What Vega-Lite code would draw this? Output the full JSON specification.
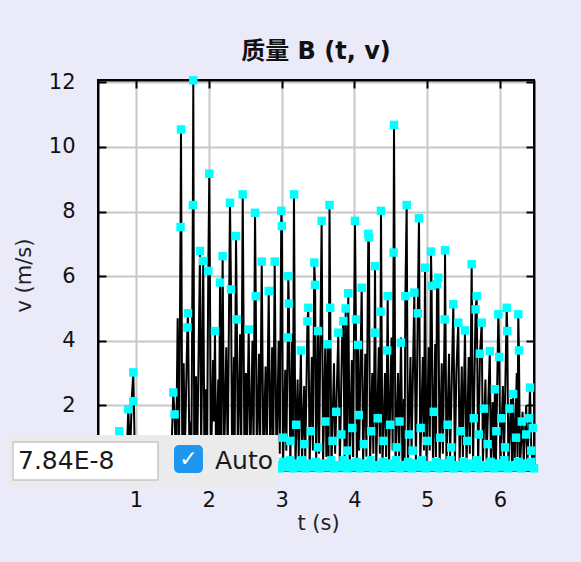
{
"$schema":"https://vega.github.io/schema/vega-lite/v6.json",
"width":436,"height":390,
"autosize":{"type":"none"},
"padding":{"left":98,"top":80,"right":47,"bottom":92},
"background":"#eaeaf9",
"title":{"text":"质量 B (t, v)","font":"DejaVu Sans, Noto Sans CJK SC","fontSize":24,"fontWeight":"bold","color":"#111111","anchor":"middle","baseline":"alphabetic","offset":-12},
"config":{
 "view":{"stroke":"black","strokeWidth":2,"fill":"white"},
 "axis":{"domainColor":"black","domainWidth":2,"tickColor":"black","tickWidth":2,"tickSize":-8,"gridColor":"#c8c8c8","gridWidth":2,"labelFont":"DejaVu Sans","labelFontSize":21,"labelColor":"#111111","titleFont":"DejaVu Sans","titleFontSize":21,"titleColor":"#222222","titleFontWeight":"normal"}
},
"datasets":{
"series":[
{"t":0.478,"v":0.05},{"t":0.55,"v":0.1},{"t":0.62,"v":0.3},{"t":0.66,"v":0.05},{"t":0.72,"v":0.6},{"t":0.75,"v":0.1},{"t":0.77,"v":1.2},{"t":0.8,"v":0.2},{"t":0.85,"v":0.8},{"t":0.87,"v":0.3},{"t":0.894,"v":1.88},{"t":0.92,"v":0.4},{"t":0.94,"v":2.13},{"t":0.963,"v":3.02},{"t":0.985,"v":0.3},{"t":1.0,"v":0.05},{"t":1.05,"v":0.4},{"t":1.1,"v":0.05},{"t":1.2,"v":0.3},{"t":1.3,"v":0.05},{"t":1.4,"v":0.2},{"t":1.48,"v":0.05},
{"t":1.512,"v":2.4},{"t":1.53,"v":1.72},{"t":1.55,"v":0.1},{"t":1.572,"v":4.7},{"t":1.59,"v":0.2},{"t":1.612,"v":7.52},{"t":1.618,"v":10.54},{"t":1.636,"v":0.2},{"t":1.655,"v":3.3},{"t":1.67,"v":0.4},{"t":1.706,"v":4.41},{"t":1.714,"v":4.85},{"t":1.735,"v":0.2},{"t":1.75,"v":1.5},{"t":1.76,"v":0.1},{"t":1.781,"v":8.2},{"t":1.787,"v":12.06},{"t":1.8,"v":0.2},{"t":1.824,"v":2.9},{"t":1.84,"v":0.3},{"t":1.879,"v":6.78},{"t":1.895,"v":0.6},{"t":1.924,"v":6.47},{"t":1.94,"v":0.1},{"t":1.96,"v":2.5},{"t":1.975,"v":0.4},{"t":1.993,"v":6.16},{"t":2.007,"v":9.17},{"t":2.03,"v":0.1},{"t":2.058,"v":3.4},{"t":2.07,"v":1.5},{"t":2.085,"v":4.3},{"t":2.1,"v":0.2},{"t":2.13,"v":2.8},{"t":2.14,"v":0.6},{"t":2.154,"v":5.8},{"t":2.17,"v":0.3},{"t":2.19,"v":6.62},{"t":2.21,"v":0.2},{"t":2.24,"v":3.8},{"t":2.26,"v":0.4},{"t":2.291,"v":8.27},{"t":2.305,"v":5.59},{"t":2.32,"v":0.1},{"t":2.345,"v":3.5},{"t":2.355,"v":0.6},{"t":2.374,"v":7.24},{"t":2.385,"v":4.66},{"t":2.4,"v":0.2},{"t":2.43,"v":4.2},{"t":2.445,"v":0.5},{"t":2.466,"v":8.53},{"t":2.49,"v":0.1},{"t":2.51,"v":3.0},{"t":2.525,"v":0.8},{"t":2.548,"v":4.35},{"t":2.57,"v":0.2},{"t":2.6,"v":4.0},{"t":2.615,"v":0.5},{"t":2.635,"v":7.96},{"t":2.645,"v":5.38},{"t":2.66,"v":0.1},{"t":2.69,"v":3.6},{"t":2.705,"v":0.7},{"t":2.727,"v":6.45},{"t":2.75,"v":0.2},{"t":2.78,"v":3.2},{"t":2.795,"v":0.4},{"t":2.823,"v":5.54},{"t":2.845,"v":0.1},{"t":2.87,"v":3.8},{"t":2.885,"v":0.5},{"t":2.905,"v":6.45},{"t":2.93,"v":0.1},{"t":2.96,"v":4.0},{"t":2.975,"v":0.5},{"t":2.996,"v":8.02},{"t":3.004,"v":7.55},{"t":3.02,"v":0.1},{"t":3.05,"v":3.1},{"t":3.065,"v":0.6},{"t":3.085,"v":4.1},{"t":3.092,"v":6.0},{"t":3.1,"v":5.15},{"t":3.12,"v":0.1},{"t":3.145,"v":4.2},{"t":3.155,"v":0.8},{"t":3.17,"v":8.53},{"t":3.19,"v":0.1},{"t":3.22,"v":2.8},{"t":3.235,"v":0.4},{"t":3.265,"v":3.7},{"t":3.28,"v":0.2},{"t":3.31,"v":2.6},{"t":3.325,"v":0.3},{"t":3.355,"v":4.6},{"t":3.367,"v":5.02},{"t":3.385,"v":0.1},{"t":3.415,"v":3.5},{"t":3.43,"v":0.6},{"t":3.449,"v":6.42},{"t":3.46,"v":5.73},{"t":3.475,"v":0.2},{"t":3.5,"v":4.3},{"t":3.515,"v":0.5},{"t":3.55,"v":7.71},{"t":3.57,"v":0.2},{"t":3.6,"v":3.9},{"t":3.615,"v":0.4},{"t":3.635,"v":3.89},{"t":3.645,"v":0.3},{"t":3.658,"v":8.2},{"t":3.668,"v":5.02},{"t":3.685,"v":0.1},{"t":3.72,"v":3.3},{"t":3.735,"v":0.5},{"t":3.779,"v":4.25},{"t":3.8,"v":0.1},{"t":3.83,"v":4.0},{"t":3.848,"v":4.61},{"t":3.865,"v":0.3},{"t":3.88,"v":5.0},{"t":3.895,"v":0.7},{"t":3.916,"v":5.47},{"t":3.935,"v":0.1},{"t":3.965,"v":3.4},{"t":3.98,"v":0.4},{"t":4.008,"v":7.71},{"t":4.02,"v":4.66},{"t":4.035,"v":0.2},{"t":4.05,"v":3.87},{"t":4.065,"v":0.6},{"t":4.1,"v":5.64},{"t":4.12,"v":0.1},{"t":4.15,"v":3.6},{"t":4.165,"v":0.4},{"t":4.191,"v":7.31},{"t":4.2,"v":7.2},{"t":4.215,"v":0.2},{"t":4.245,"v":3.0},{"t":4.26,"v":0.5},{"t":4.278,"v":4.25},{"t":4.283,"v":6.31},{"t":4.3,"v":0.1},{"t":4.335,"v":3.8},{"t":4.35,"v":0.5},{"t":4.36,"v":4.9},{"t":4.365,"v":8.02},{"t":4.385,"v":0.1},{"t":4.42,"v":3.0},{"t":4.435,"v":0.4},{"t":4.45,"v":3.7},{"t":4.457,"v":5.38},{"t":4.475,"v":0.1},{"t":4.51,"v":4.1},{"t":4.525,"v":0.6},{"t":4.538,"v":6.73},{"t":4.544,"v":10.68},{"t":4.565,"v":0.1},{"t":4.6,"v":3.0},{"t":4.615,"v":0.3},{"t":4.64,"v":4.1},{"t":4.66,"v":0.1},{"t":4.68,"v":2.2},{"t":4.69,"v":0.3},{"t":4.7,"v":5.38},{"t":4.718,"v":8.2},{"t":4.735,"v":0.1},{"t":4.77,"v":3.5},{"t":4.785,"v":0.5},{"t":4.823,"v":5.49},{"t":4.845,"v":0.1},{"t":4.87,"v":4.85},{"t":4.887,"v":7.79},{"t":4.905,"v":0.2},{"t":4.94,"v":3.5},{"t":4.955,"v":0.6},{"t":4.97,"v":6.26},{"t":4.99,"v":0.1},{"t":5.02,"v":3.8},{"t":5.035,"v":0.6},{"t":5.052,"v":6.76},{"t":5.06,"v":5.7},{"t":5.08,"v":0.1},{"t":5.11,"v":3.9},{"t":5.12,"v":0.4},{"t":5.135,"v":5.75},{"t":5.152,"v":5.95},{"t":5.17,"v":0.1},{"t":5.2,"v":3.3},{"t":5.215,"v":0.5},{"t":5.24,"v":4.66},{"t":5.245,"v":6.8},{"t":5.265,"v":0.1},{"t":5.3,"v":3.6},{"t":5.315,"v":0.4},{"t":5.359,"v":5.13},{"t":5.38,"v":0.1},{"t":5.4,"v":3.0},{"t":5.427,"v":4.56},{"t":5.445,"v":0.2},{"t":5.475,"v":3.2},{"t":5.49,"v":0.4},{"t":5.519,"v":4.32},{"t":5.54,"v":0.1},{"t":5.57,"v":3.5},{"t":5.585,"v":0.5},{"t":5.611,"v":6.37},{"t":5.63,"v":0.2},{"t":5.665,"v":4.97},{"t":5.68,"v":5.38},{"t":5.7,"v":0.1},{"t":5.725,"v":3.6},{"t":5.749,"v":4.56},{"t":5.765,"v":0.2},{"t":5.8,"v":2.8},{"t":5.815,"v":0.3},{"t":5.86,"v":3.68},{"t":5.875,"v":0.2},{"t":5.9,"v":2.1},{"t":5.915,"v":0.2},{"t":5.93,"v":2.5},{"t":5.945,"v":0.3},{"t":5.977,"v":4.82},{"t":5.99,"v":3.5},{"t":6.005,"v":0.1},{"t":6.04,"v":2.6},{"t":6.055,"v":0.3},{"t":6.092,"v":5.02},{"t":6.1,"v":4.3},{"t":6.115,"v":0.1},{"t":6.15,"v":2.2},{"t":6.165,"v":0.2},{"t":6.18,"v":2.35},{"t":6.2,"v":0.1},{"t":6.23,"v":3.0},{"t":6.24,"v":0.4},{"t":6.251,"v":4.82},{"t":6.26,"v":3.7},{"t":6.275,"v":0.1},{"t":6.31,"v":1.8},{"t":6.325,"v":0.2},{"t":6.36,"v":2.0},{"t":6.375,"v":0.1},{"t":6.4,"v":1.6},{"t":6.412,"v":2.55},{"t":6.43,"v":0.6},{"t":6.45,"v":0.2},{"t":6.467,"v":0.1}
],
"samples":[
{"t":0.77,"v":1.2},{"t":0.894,"v":1.88},{"t":0.963,"v":2.13},{"t":0.963,"v":3.02},
{"t":1.512,"v":2.4},{"t":1.53,"v":1.72},{"t":1.612,"v":7.52},{"t":1.618,"v":10.54},{"t":1.706,"v":4.41},{"t":1.714,"v":4.85},{"t":1.781,"v":8.2},{"t":1.787,"v":12.06},{"t":1.879,"v":6.78},{"t":1.924,"v":6.47},{"t":1.993,"v":6.16},{"t":2.007,"v":9.17},{"t":2.085,"v":4.3},{"t":2.154,"v":5.8},{"t":2.19,"v":6.62},{"t":2.291,"v":8.27},{"t":2.305,"v":5.59},{"t":2.374,"v":7.24},{"t":2.385,"v":4.66},{"t":2.466,"v":8.53},{"t":2.548,"v":4.35},{"t":2.635,"v":7.96},{"t":2.645,"v":5.38},{"t":2.727,"v":6.45},{"t":2.823,"v":5.54},{"t":2.905,"v":6.45},{"t":2.996,"v":8.02},{"t":3.004,"v":7.55},{"t":3.085,"v":4.1},{"t":3.092,"v":6.0},{"t":3.1,"v":5.15},{"t":3.17,"v":8.53},{"t":3.265,"v":3.7},{"t":3.355,"v":4.6},{"t":3.367,"v":5.02},{"t":3.449,"v":6.42},{"t":3.46,"v":5.73},{"t":3.5,"v":4.3},{"t":3.55,"v":7.71},{"t":3.635,"v":3.89},{"t":3.658,"v":8.2},{"t":3.668,"v":5.02},{"t":3.779,"v":4.25},{"t":3.848,"v":4.61},{"t":3.88,"v":5.0},{"t":3.916,"v":5.47},{"t":4.008,"v":7.71},{"t":4.02,"v":4.66},{"t":4.05,"v":3.87},{"t":4.1,"v":5.64},{"t":4.191,"v":7.31},{"t":4.2,"v":7.2},{"t":4.278,"v":4.25},{"t":4.283,"v":6.31},{"t":4.36,"v":4.9},{"t":4.365,"v":8.02},{"t":4.45,"v":3.7},{"t":4.457,"v":5.38},{"t":4.538,"v":6.73},{"t":4.544,"v":10.68},{"t":4.64,"v":3.94},{"t":4.7,"v":5.38},{"t":4.718,"v":8.2},{"t":4.823,"v":5.49},{"t":4.87,"v":4.85},{"t":4.887,"v":7.79},{"t":4.97,"v":6.26},{"t":5.052,"v":6.76},{"t":5.06,"v":5.7},{"t":5.135,"v":5.75},{"t":5.152,"v":5.95},{"t":5.24,"v":4.66},{"t":5.245,"v":6.8},{"t":5.359,"v":5.13},{"t":5.427,"v":4.56},{"t":5.519,"v":4.32},{"t":5.611,"v":6.37},{"t":5.665,"v":4.97},{"t":5.68,"v":5.38},{"t":5.725,"v":3.6},{"t":5.749,"v":4.56},{"t":5.86,"v":3.68},{"t":5.93,"v":2.5},{"t":5.977,"v":4.82},{"t":5.99,"v":3.5},{"t":6.092,"v":5.02},{"t":6.1,"v":4.3},{"t":6.18,"v":2.35},{"t":6.251,"v":4.82},{"t":6.26,"v":3.7},{"t":6.4,"v":1.6},{"t":6.412,"v":2.55},{"t":6.43,"v":0.6},
{"t":3.02,"v":1.0},{"t":3.12,"v":0.9},{"t":3.2,"v":1.4},{"t":3.31,"v":0.8},{"t":3.4,"v":1.2},{"t":3.5,"v":0.7},{"t":3.6,"v":1.5},{"t":3.7,"v":0.9},{"t":3.75,"v":1.8},{"t":3.82,"v":1.1},{"t":3.9,"v":0.6},{"t":3.97,"v":1.3},{"t":4.06,"v":1.7},{"t":4.13,"v":0.8},{"t":4.23,"v":1.2},{"t":4.32,"v":1.6},{"t":4.4,"v":0.9},{"t":4.49,"v":1.4},{"t":4.58,"v":0.7},{"t":4.62,"v":1.5},{"t":4.75,"v":1.1},{"t":4.8,"v":0.6},{"t":4.91,"v":1.3},{"t":5.0,"v":0.9},{"t":5.09,"v":1.8},{"t":5.18,"v":1.0},{"t":5.28,"v":1.4},{"t":5.33,"v":0.7},{"t":5.46,"v":1.2},{"t":5.55,"v":0.9},{"t":5.64,"v":1.6},{"t":5.71,"v":1.1},{"t":5.78,"v":1.9},{"t":5.83,"v":0.8},{"t":5.95,"v":1.2},{"t":6.02,"v":1.6},{"t":6.07,"v":0.7},{"t":6.13,"v":1.9},{"t":6.22,"v":1.0},{"t":6.3,"v":1.5},{"t":6.36,"v":1.1},{"t":6.45,"v":1.3},
{"t":2.92,"v":0.15},{"t":2.97,"v":0.05},{"t":3.02,"v":0.25},{"t":3.06,"v":0.1},{"t":3.12,"v":0.3},{"t":3.16,"v":0.05},{"t":3.19,"v":0.2},{"t":3.24,"v":0.1},{"t":3.28,"v":0.3},{"t":3.33,"v":0.05},{"t":3.38,"v":0.2},{"t":3.43,"v":0.1},{"t":3.47,"v":0.25},{"t":3.52,"v":0.05},{"t":3.57,"v":0.2},{"t":3.62,"v":0.1},{"t":3.68,"v":0.3},{"t":3.72,"v":0.05},{"t":3.76,"v":0.15},{"t":3.8,"v":0.1},{"t":3.85,"v":0.3},{"t":3.9,"v":0.05},{"t":3.94,"v":0.2},{"t":3.98,"v":0.1},{"t":4.03,"v":0.25},{"t":4.08,"v":0.05},{"t":4.12,"v":0.2},{"t":4.17,"v":0.1},{"t":4.22,"v":0.3},{"t":4.26,"v":0.05},{"t":4.3,"v":0.15},{"t":4.35,"v":0.1},{"t":4.39,"v":0.25},{"t":4.43,"v":0.05},{"t":4.48,"v":0.2},{"t":4.52,"v":0.1},{"t":4.57,"v":0.3},{"t":4.62,"v":0.05},{"t":4.66,"v":0.15},{"t":4.7,"v":0.1},{"t":4.74,"v":0.25},{"t":4.79,"v":0.05},{"t":4.84,"v":0.2},{"t":4.89,"v":0.1},{"t":4.93,"v":0.3},{"t":4.98,"v":0.05},{"t":5.02,"v":0.15},{"t":5.07,"v":0.1},{"t":5.12,"v":0.25},{"t":5.17,"v":0.05},{"t":5.22,"v":0.2},{"t":5.27,"v":0.1},{"t":5.32,"v":0.3},{"t":5.36,"v":0.05},{"t":5.41,"v":0.15},{"t":5.45,"v":0.1},{"t":5.5,"v":0.25},{"t":5.54,"v":0.05},{"t":5.59,"v":0.2},{"t":5.63,"v":0.1},{"t":5.68,"v":0.3},{"t":5.72,"v":0.05},{"t":5.77,"v":0.15},{"t":5.82,"v":0.1},{"t":5.87,"v":0.25},{"t":5.92,"v":0.05},{"t":5.96,"v":0.2},{"t":6.01,"v":0.1},{"t":6.06,"v":0.3},{"t":6.11,"v":0.05},{"t":6.16,"v":0.15},{"t":6.2,"v":0.1},{"t":6.25,"v":0.25},{"t":6.29,"v":0.05},{"t":6.34,"v":0.2},{"t":6.38,"v":0.1},{"t":6.43,"v":0.25},{"t":6.467,"v":0.05}
],
"field":[{"label":"7.84E-8"}],
"check":[{"label":"✓"}],
"auto":[{"label":"Auto"}]
},
"layer":[
{"data":{"name":"series"},
 "mark":{"type":"line","color":"black","strokeWidth":2},
 "encoding":{
  "x":{"field":"t","type":"quantitative","scale":{"domain":[0.478,6.467],"nice":false,"zero":false},
   "axis":{"orient":"bottom","title":"t (s)","values":[1,2,3,4,5,6],"grid":true,"labelPadding":38,"labelBaseline":"middle","titleX":220,"titleY":53,"titleBaseline":"middle"}},
  "y":{"field":"v","type":"quantitative","scale":{"domain":[0,12.07],"nice":false,"zero":false},
   "axis":{"orient":"left","title":"v (m/s)","values":[2,4,6,8,10,12],"grid":true,"labelPadding":31,"labelBaseline":"middle","titleX":-74,"titleY":195,"titleAngle":-90,"titleAlign":"center","titleBaseline":"middle"}}
 }},
{"data":{"name":"samples"},
 "mark":{"type":"square","size":72,"color":"#00ffff","opacity":1,"filled":true},
 "encoding":{"x":{"field":"t","type":"quantitative","axis":null},"y":{"field":"v","type":"quantitative","axis":null}}},
{"data":{"name":"samples"},
 "mark":{"type":"point","opacity":0},
 "encoding":{
  "x":{"field":"t","type":"quantitative","axis":{"orient":"top","title":null,"labels":false,"grid":false,"values":[1,2,3,4,5,6]}},
  "y":{"field":"v","type":"quantitative","axis":{"orient":"right","title":null,"labels":false,"grid":false,"values":[0,2,4,6,8,10,12]}}}},
{"data":{"name":"field"},
 "mark":{"type":"rect","color":"#ebebeb"},
 "encoding":{"x":{"datum":-0.758,"type":"quantitative","axis":null},"x2":{"datum":2.9505},"y":{"datum":1.083,"type":"quantitative","axis":null},"y2":{"datum":-0.526}}},
{"data":{"name":"field"},
 "mark":{"type":"rect","fill":"white","stroke":"#c8c8c8","strokeWidth":1.5},
 "encoding":{"x":{"datum":-0.69,"type":"quantitative","axis":null},"x2":{"datum":1.302},"y":{"datum":0.867,"type":"quantitative","axis":null},"y2":{"datum":-0.309}}},
{"data":{"name":"field"},
 "mark":{"type":"text","font":"DejaVu Sans","fontSize":25,"align":"left","baseline":"middle","color":"#1a1a1a"},
 "encoding":{"x":{"datum":-0.621,"type":"quantitative","axis":null},"y":{"datum":0.279,"type":"quantitative","axis":null},"text":{"field":"label"}}},
{"data":{"name":"check"},
 "mark":{"type":"rect","color":"#1f97ef","cornerRadius":5},
 "encoding":{"x":{"datum":1.522,"type":"quantitative","axis":null},"x2":{"datum":1.92},"y":{"datum":0.774,"type":"quantitative","axis":null},"y2":{"datum":-0.093}}},
{"data":{"name":"check"},
 "mark":{"type":"text","font":"DejaVu Sans","fontSize":22,"fontWeight":"bold","align":"center","baseline":"middle","color":"white"},
 "encoding":{"x":{"datum":1.721,"type":"quantitative","axis":null},"y":{"datum":0.34,"type":"quantitative","axis":null},"text":{"field":"label"}}},
{"data":{"name":"auto"},
 "mark":{"type":"text","font":"DejaVu Sans","fontSize":25,"align":"left","baseline":"middle","color":"#1a1a1a"},
 "encoding":{"x":{"datum":2.085,"type":"quantitative","axis":null},"y":{"datum":0.279,"type":"quantitative","axis":null},"text":{"field":"label"}}}
],
"resolve":{"axis":{"x":"independent","y":"independent"}}
}
